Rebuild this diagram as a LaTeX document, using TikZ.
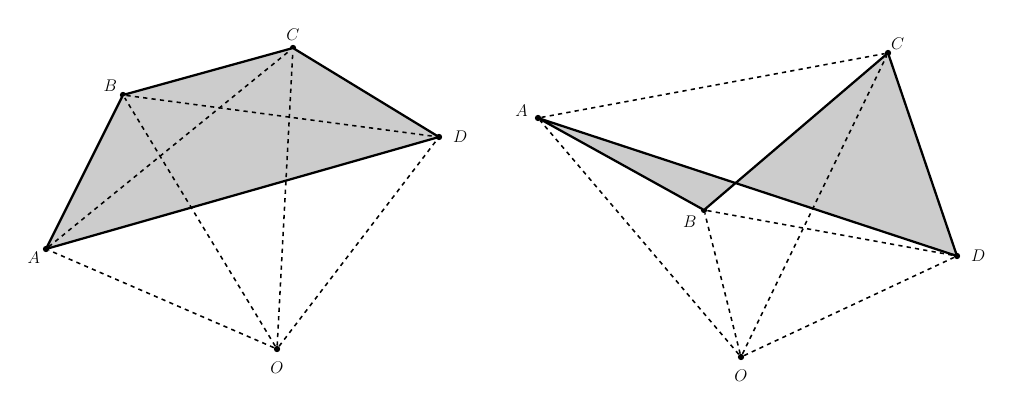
\documentclass[tikz,border=0pt]{standalone}
\usetikzlibrary{positioning}
\begin{document}
\begin{tikzpicture}[x=0.025cm, y=-0.025cm,
    edge/.style={line width=1.6pt},
    hidden/.style={dashed, line width=1.1pt},
    dot/.style={circle, fill, inner sep=0pt, minimum size=4.5pt},
    lbl/.style={font=\large}
]
\useasboundingbox (0,0) rectangle (1025,413);

% left figure
\node[dot] (lA) at (46,249) {};
\node[dot] (lB) at (123,95) {};
\node[dot] (lC) at (293,48) {};
\node[dot] (lD) at (439,137) {};
\node[dot] (lO) at (277,349) {};
\fill[black!20] (lA.center) -- (lB.center) -- (lC.center) -- (lD.center) -- cycle;
\draw[hidden] (lA) -- (lC);
\draw[hidden] (lB) -- (lD);
\foreach \p in {lA,lB,lC,lD} \draw[hidden] (lO) -- (\p);
\draw[edge] (lA.center) -- (lB.center) -- (lC.center) -- (lD.center) -- cycle;
\node[lbl, below left=-3pt and -1pt of lA] {$A$};
\node[lbl, above left=-3pt and -1pt of lB] {$B$};
\node[lbl, above=-1pt of lC] {$C$};
\node[lbl, right=4pt of lD] {$D$};
\node[lbl, below=3pt of lO] {$O$};

% right figure
\node[dot] (rA) at (538,118) {};
\node[dot] (rB) at (704,210) {};
\node[dot] (rC) at (888,53) {};
\node[dot] (rD) at (957,256) {};
\node[dot] (rO) at (741,357) {};
\fill[black!20] (rA.center) -- (rB.center) -- (rC.center) -- (rD.center) -- cycle;
\draw[hidden] (rA) -- (rC);
\draw[hidden] (rB) -- (rD);
\foreach \p in {rA,rB,rC,rD} \draw[hidden] (rO) -- (\p);
\draw[edge] (rA.center) -- (rB.center) -- (rC.center) -- (rD.center) -- cycle;
\node[lbl, above left=-4pt and 2pt of rA] {$A$};
\node[lbl, below left=-1pt and 0pt of rB] {$B$};
\node[lbl, above right=-3pt and -3pt of rC] {$C$};
\node[lbl, right=4pt of rD] {$D$};
\node[lbl, below=3pt of rO] {$O$};
\end{tikzpicture}
\end{document}
